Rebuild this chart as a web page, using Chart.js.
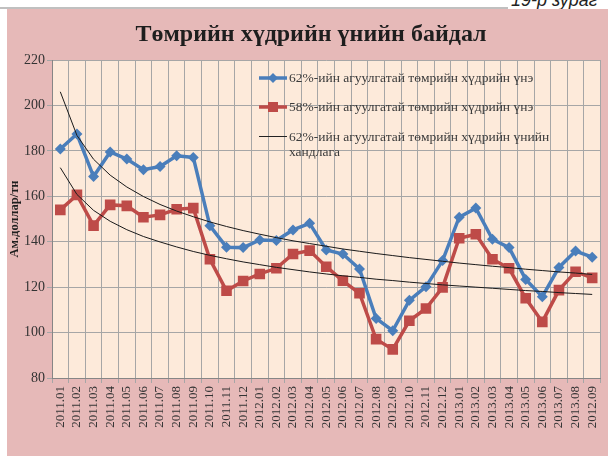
<!DOCTYPE html>
<html>
<head>
<meta charset="utf-8">
<script src="https://cdn.jsdelivr.net/npm/chart.js@4.4.0/dist/chart.umd.min.js"></script>
<style>
  html, body { margin: 0; padding: 0; background: #e6b9b8; overflow: hidden; }
  body { width: 608px; height: 456px; position: relative; }
  #leftStrip { position: absolute; left: 0; top: 0; width: 7px; height: 100%; background: #fff; }
  #top { position: absolute; left: 0; top: 0; width: 100%; height: 9px; overflow: hidden; background: #fff; }
  #topLine { position: absolute; left: 0; top: 7px; width: 508px; height: 2px; background: #c0c0c0; }
  #figNo { position: absolute; left: 511px; top: -10px; font: italic 18px "Liberation Sans", Arial, sans-serif; color: #222; white-space: nowrap; }
  #wrap { position: absolute; left: 7px; top: 9px; width: 601px; height: 447px; overflow: hidden; }
  canvas { display: block; }
</style>
</head>
<body>
<div id="leftStrip"></div>
<div id="top"><div id="topLine"></div><div id="figNo">19-р зураг</div></div>
<div id="wrap"><canvas id="oreChart" width="601" height="447"></canvas></div>
<script>
// months on the category axis (last label is printed as 2012.09 in the source)
const months = [
  "2011.01", "2011.02", "2011.03", "2011.04", "2011.05", "2011.06", "2011.07", "2011.08", "2011.09", "2011.10", "2011.11", "2011.12",
  "2012.01", "2012.02", "2012.03", "2012.04", "2012.05", "2012.06", "2012.07", "2012.08", "2012.09", "2012.10", "2012.11", "2012.12",
  "2013.01", "2013.02", "2013.03", "2013.04", "2013.05", "2013.06", "2013.07", "2013.08", "2012.09"
];

// 62% Fe ore price, $/t
const ore62 = [180.8, 187.4, 168.7, 179.5, 176.4, 171.7, 173.1, 177.8, 177.1, 147.0, 137.6, 137.4,
  140.8, 140.5, 145.2, 148.1, 136.4, 134.6, 128.0, 106.2, 100.8, 114.2, 120.2, 131.7,
  150.8, 154.8, 141.1, 137.4, 123.4, 115.8, 128.7, 135.9, 133.2];

// 58% Fe ore price, $/t
const ore58 = [154.0, 160.6, 147.1, 156.2, 155.8, 150.8, 151.8, 154.3, 154.8, 132.3, 118.4, 122.7,
  125.8, 128.3, 134.6, 136.1, 129.0, 122.8, 117.3, 97.1, 92.6, 105.2, 110.6, 119.9,
  141.5, 143.3, 132.3, 128.3, 115.1, 104.7, 118.7, 126.8, 124.1];

// trend lines
const trend62 = [206.0, 186.8, 176.3, 169.3, 164.1, 159.9, 156.4, 153.5, 151.0, 148.7, 146.7, 144.9,
  143.3, 141.8, 140.4, 139.2, 138.0, 136.8, 135.8, 134.8, 133.9, 133.0, 132.2, 131.4,
  130.6, 129.9, 129.2, 128.6, 127.9, 127.3, 126.7, 126.2, 125.6];
const trend58 = [172.6, 160.8, 153.8, 149.0, 145.3, 142.3, 139.9, 137.7, 135.7, 134.0, 132.5, 131.1,
  129.9, 128.7, 127.7, 126.7, 125.8, 125.0, 124.3, 123.5, 122.9, 122.2, 121.6, 121.0,
  120.5, 120.0, 119.5, 119.0, 118.5, 118.1, 117.6, 117.2, 116.8];

const legendLabels = [
  "62%-ийн агуулгатай төмрийн хүдрийн үнэ",
  "58%-ийн агуулгатай төмрийн хүдрийн үнэ",
  "62%-ийн агуулгатай төмрийн хүдрийн үнийн",
  "хандлага"
];

const BLUE = "#4a7ebb";
const RED = "#be4b48";
const SERIF = '"Liberation Serif", "Times New Roman", serif';

// pink frame + peach plot area, title and the in-plot legend
const decor = {
  id: "decor",
  beforeDraw(chart) {
    const { ctx, chartArea: a } = chart;
    ctx.save();
    ctx.fillStyle = "#e6b9b8";
    ctx.fillRect(0, 0, chart.width, chart.height);
    ctx.fillStyle = "#fdeada";
    ctx.fillRect(a.left, a.top, a.right - a.left, a.bottom - a.top);
    ctx.restore();
  },
  afterDraw(chart) {
    const ctx = chart.ctx;
    ctx.save();
    ctx.fillStyle = "#1e1e1e";
    ctx.font = "bold 24px " + SERIF;
    ctx.textAlign = "center";
    ctx.textBaseline = "middle";
    ctx.fillText("Төмрийн хүдрийн үнийн байдал", 304, 26);

    const x0 = 252, x1 = 280, tx = 282;
    ctx.lineWidth = 3.5;
    ctx.strokeStyle = BLUE;
    ctx.beginPath(); ctx.moveTo(x0, 69); ctx.lineTo(x1, 69); ctx.stroke();
    ctx.fillStyle = BLUE;
    ctx.beginPath(); ctx.moveTo(266 - 5, 69); ctx.lineTo(266, 64); ctx.lineTo(266 + 5, 69); ctx.lineTo(266, 74); ctx.closePath(); ctx.fill();

    ctx.strokeStyle = RED;
    ctx.beginPath(); ctx.moveTo(x0, 98); ctx.lineTo(x1, 98); ctx.stroke();
    ctx.fillStyle = RED;
    ctx.fillRect(266 - 5, 98 - 5, 10, 10);

    ctx.lineWidth = 1;
    ctx.strokeStyle = "#222";
    ctx.beginPath(); ctx.moveTo(x0, 127.5); ctx.lineTo(x1, 127.5); ctx.stroke();

    ctx.fillStyle = "#3a3a3a";
    ctx.font = "13.5px " + SERIF;
    ctx.textAlign = "left";
    ctx.fillText(legendLabels[0], tx, 69);
    ctx.fillText(legendLabels[1], tx, 98);
    ctx.fillText(legendLabels[2], tx, 128);
    ctx.fillText(legendLabels[3], tx, 143);
    ctx.restore();
  }
};

new Chart(document.getElementById("oreChart").getContext("2d"), {
  type: "line",
  data: {
    labels: months,
    datasets: [
      {
        label: "62% trend",
        data: trend62,
        borderColor: "#1a1a1a",
        borderWidth: 1,
        pointRadius: 0,
        order: 0
      },
      {
        label: "58% trend",
        data: trend58,
        borderColor: "#1a1a1a",
        borderWidth: 1,
        pointRadius: 0,
        order: 0
      },
      {
        label: legendLabels[1],
        data: ore58,
        borderColor: RED,
        backgroundColor: RED,
        borderWidth: 3.5,
        pointStyle: "rect",
        pointRadius: 7.5,
        pointBorderWidth: 0,
        order: 1
      },
      {
        label: legendLabels[0],
        data: ore62,
        borderColor: BLUE,
        backgroundColor: BLUE,
        borderWidth: 3.5,
        pointStyle: "rectRot",
        pointRadius: 5.5,
        pointBorderWidth: 0,
        order: 2
      }
    ]
  },
  options: {
    responsive: false,
    animation: false,
    devicePixelRatio: 1,
    layout: { padding: { top: 51, left: 0, right: 0, bottom: 0 } },
    elements: { line: { tension: 0 } },
    plugins: {
      legend: { display: false },
      tooltip: { enabled: false }
    },
    scales: {
      x: {
        offset: true,
        grid: { offset: true, color: "#a6a6a6", tickLength: 5 },
        border: { color: "#868686" },
        ticks: {
          autoSkip: false,
          minRotation: 90,
          maxRotation: 90,
          color: "#333",
          padding: 3,
          font: { family: SERIF, size: 13 }
        },
        afterFit(scale) {
          scale.height = 78;
          scale.paddingLeft = 0;
          scale.paddingRight = 0;
        }
      },
      y: {
        min: 80,
        max: 220,
        grid: { color: "#a6a6a6", tickLength: 5 },
        border: { color: "#868686" },
        ticks: {
          stepSize: 20,
          color: "#333",
          padding: 2,
          font: { family: SERIF, size: 14 }
        },
        title: {
          display: true,
          text: "Ам.доллар/тн",
          color: "#1e1e1e",
          padding: 0,
          font: { family: SERIF, size: 12.5, weight: "bold" }
        },
        afterFit(scale) { scale.width = 45; }
      }
    }
  },
  plugins: [decor]
});
</script>
</body>
</html>
